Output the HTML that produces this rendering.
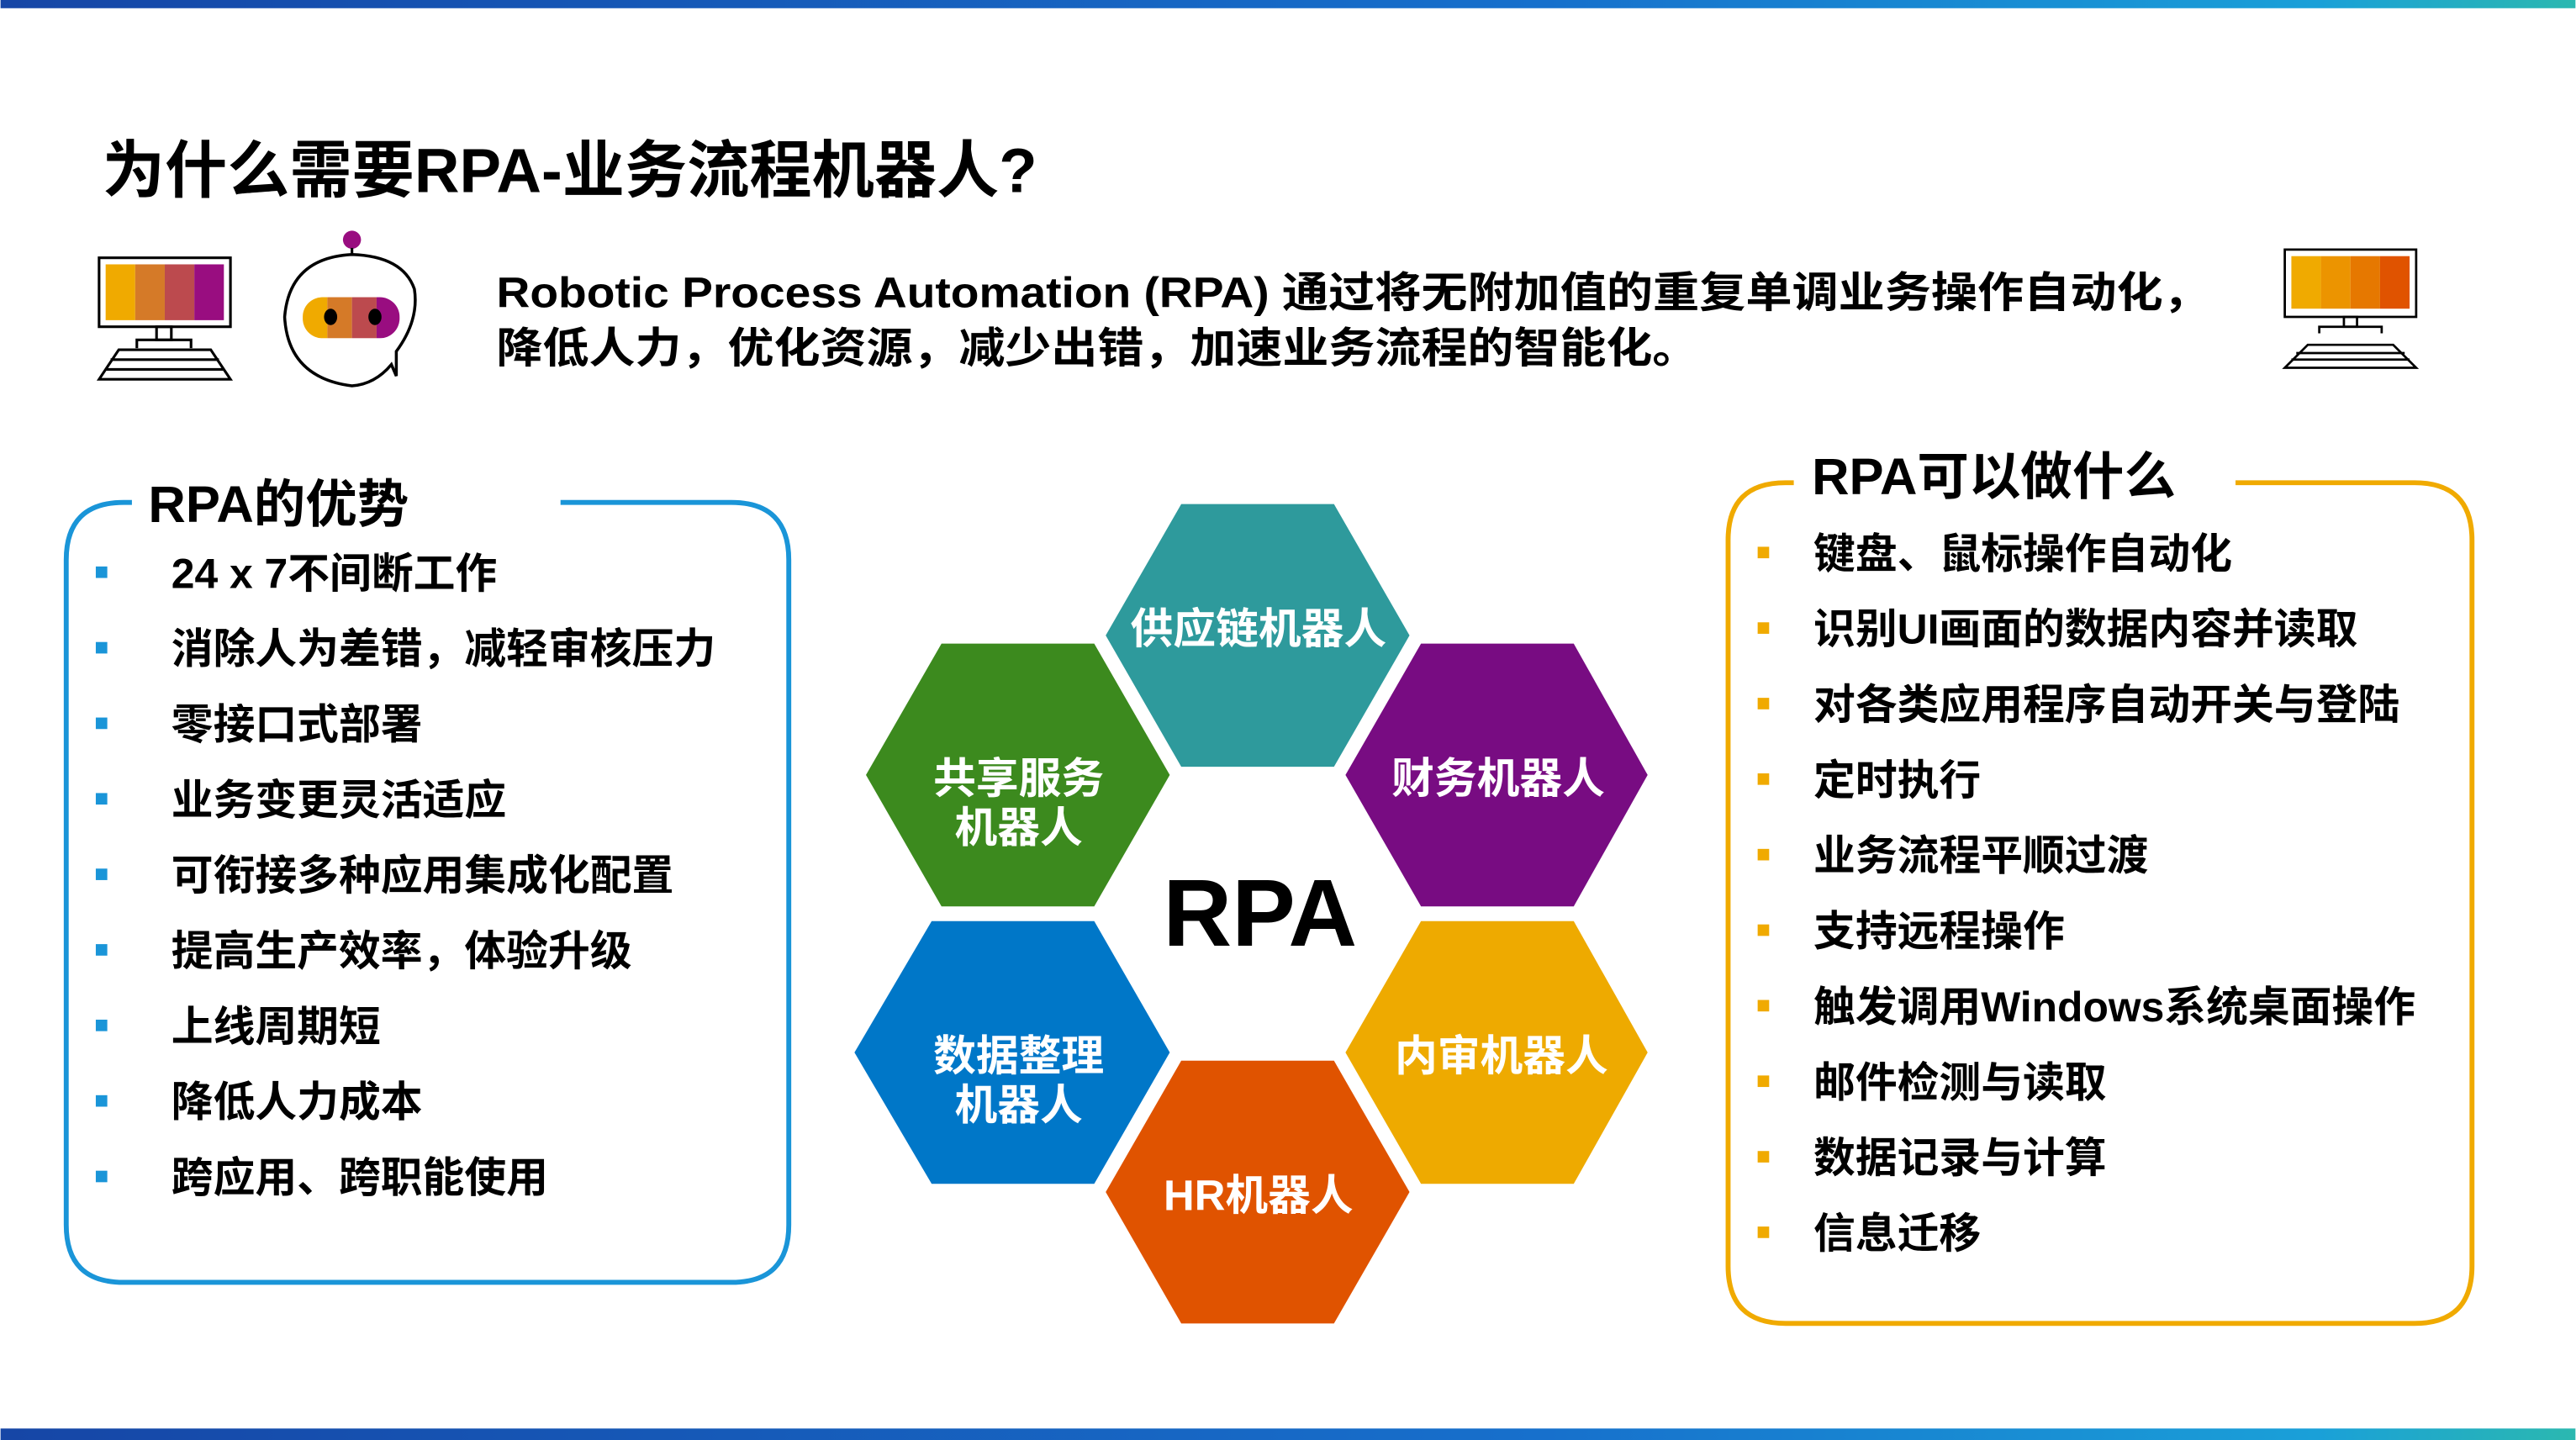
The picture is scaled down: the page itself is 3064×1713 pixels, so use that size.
<!DOCTYPE html>
<html><head><meta charset="utf-8">
<style>
html,body{margin:0;padding:0;background:#fff;}
svg{display:block;}
text{font-family:"Liberation Sans","Noto Sans CJK SC",sans-serif;font-weight:bold;}
</style></head>
<body>
<svg width="3064" height="1713" viewBox="0 0 1568 877" xmlns="http://www.w3.org/2000/svg">
<defs>
<linearGradient id="bar" x1="0" x2="1" y1="0" y2="0">
<stop offset="0" stop-color="#1646a6"/><stop offset="0.6" stop-color="#1770cc"/><stop offset="0.9" stop-color="#1aa0d8"/><stop offset="1" stop-color="#2bb8b0"/>
</linearGradient>
</defs>
<rect x="0" y="0" width="1568" height="5" fill="url(#bar)"/>
<rect x="0" y="870" width="1568" height="7" fill="url(#bar)"/>

<text x="62" y="117" font-size="38" fill="#000">为什么需要RPA-业务流程机器人?</text>

<!-- left monitor -->
<g stroke="#000" stroke-width="1.6" fill="none">
<rect x="60" y="157" width="80" height="42" fill="#fff"/>
<rect x="95" y="199" width="9" height="8"/>
<path d="M83 212 V207 H116 V212"/>
<path d="M60 231 L72 213 H128 L140 231 Z"/>
<line x1="67" y1="219" x2="133" y2="219"/><line x1="64" y1="225" x2="136" y2="225"/>
</g>
<rect x="64" y="161" width="18" height="34" fill="#F0AA00"/>
<rect x="82" y="161" width="18" height="34" fill="#D57A28"/>
<rect x="100" y="161" width="18" height="34" fill="#BC4A4E"/>
<rect x="118" y="161" width="18" height="34" fill="#990D80"/>

<!-- robot -->
<circle cx="214" cy="146" r="5.5" fill="#990D80"/>
<line x1="214" y1="151" x2="214" y2="155" stroke="#000" stroke-width="1.6"/>
<path d="M238 222 L241 229 L241 214 Q255 195 252 176 Q245 156 214 155 Q176 157 173 193 Q175 230 214 235 Q228 234 238 222 Z" fill="#fff" stroke="#000" stroke-width="1.8"/>
<clipPath id="pill"><rect x="184" y="181" width="59" height="25" rx="12"/></clipPath>
<g clip-path="url(#pill)">
<rect x="184" y="181" width="15" height="25" fill="#F0AA00"/>
<rect x="199" y="181" width="15" height="25" fill="#D57A28"/>
<rect x="214" y="181" width="15" height="25" fill="#BC4A4E"/>
<rect x="229" y="181" width="15" height="25" fill="#990D80"/>
</g>
<ellipse cx="201" cy="193" rx="4" ry="5" fill="#000"/>
<ellipse cx="228" cy="193" rx="4" ry="5" fill="#000"/>

<text x="302" y="187" font-size="26" fill="#000" textLength="1043" lengthAdjust="spacingAndGlyphs">Robotic Process Automation (RPA) 通过将无附加值的重复单调业务操作自动化，</text>
<text x="302" y="221" font-size="26" fill="#000" textLength="732" lengthAdjust="spacingAndGlyphs">降低人力，优化资源，减少出错，加速业务流程的智能化。</text>

<!-- right monitor -->
<g stroke="#000" stroke-width="1.4" fill="none">
<rect x="1391" y="152" width="80" height="41" fill="#fff"/>
<rect x="1427" y="193" width="8" height="6"/>
<path d="M1412 203 V199 H1450 V203"/>
<path d="M1391 224 L1405 210 H1457 L1471 224 Z"/>
<line x1="1398" y1="215" x2="1464" y2="215"/><line x1="1395" y1="219" x2="1467" y2="219"/>
</g>
<rect x="1395" y="156" width="18" height="32" fill="#F0AA00"/>
<rect x="1413" y="156" width="18" height="32" fill="#EC9400"/>
<rect x="1431" y="156" width="18" height="32" fill="#E67800"/>
<rect x="1449" y="156" width="18" height="32" fill="#E05300"/>

<!-- left box -->
<path d="M80 306 H75 Q40 306 40 341 V746 Q40 781 75 781 H445 Q480 781 480 746 V341 Q480 306 445 306 H341" fill="none" stroke="#1a95d8" stroke-width="3"/>
<text x="90" y="318" font-size="31.5" fill="#000">RPA的优势</text>
<g fill="#1a95d8">
<rect x="58" y="345" width="7" height="7"/><rect x="58" y="391" width="7" height="7"/><rect x="58" y="437" width="7" height="7"/>
<rect x="58" y="483" width="7" height="7"/><rect x="58" y="529" width="7" height="7"/><rect x="58" y="575" width="7" height="7"/>
<rect x="58" y="621" width="7" height="7"/><rect x="58" y="667" width="7" height="7"/><rect x="58" y="713" width="7" height="7"/>
</g>
<g font-size="25.5" fill="#000">
<text x="104" y="358">24 x 7不间断工作</text>
<text x="104" y="404">消除人为差错，减轻审核压力</text>
<text x="104" y="450">零接口式部署</text>
<text x="104" y="496">业务变更灵活适应</text>
<text x="104" y="542">可衔接多种应用集成化配置</text>
<text x="104" y="588">提高生产效率，体验升级</text>
<text x="104" y="634">上线周期短</text>
<text x="104" y="680">降低人力成本</text>
<text x="104" y="726">跨应用、跨职能使用</text>
</g>

<!-- hexes -->
<g>
<polygon points="673,387 719,307 812,307 858,387 812,467 719,467" fill="#2E9A9C"/>
<polygon points="527,472 573,392 666,392 712,472 666,552 573,552" fill="#3C8A1E"/>
<polygon points="819,472 865,392 958,392 1003,472 958,552 865,552" fill="#780C82"/>
<polygon points="520,641 567,561 666,561 712,641 666,721 567,721" fill="#0077C8"/>
<polygon points="819,641 865,561 958,561 1003,641 958,721 865,721" fill="#EEAA00"/>
<polygon points="673,726 719,646 812,646 858,726 812,806 719,806" fill="#E05300"/>
</g>
<g font-size="26" fill="#fff" text-anchor="middle">
<text x="766" y="392">供应链机器人</text>
<text x="620" y="483">共享服务</text>
<text x="620" y="513">机器人</text>
<text x="912" y="483">财务机器人</text>
<text x="620" y="652">数据整理</text>
<text x="620" y="682">机器人</text>
<text x="914" y="652">内审机器人</text>
<text x="766" y="737">HR机器人</text>
</g>
<text x="767" y="576" font-size="58" fill="#000" text-anchor="middle">RPA</text>

<!-- right box -->
<path d="M1092 294 H1087 Q1052 294 1052 329 V771 Q1052 806 1087 806 H1470 Q1505 806 1505 771 V329 Q1505 294 1470 294 H1361" fill="none" stroke="#F0AA00" stroke-width="3"/>
<text x="1103" y="301" font-size="31.5" fill="#000">RPA可以做什么</text>
<g fill="#F0AA00">
<rect x="1070" y="333" width="7" height="7"/><rect x="1070" y="379" width="7" height="7"/><rect x="1070" y="425" width="7" height="7"/>
<rect x="1070" y="471" width="7" height="7"/><rect x="1070" y="517" width="7" height="7"/><rect x="1070" y="563" width="7" height="7"/>
<rect x="1070" y="609" width="7" height="7"/><rect x="1070" y="655" width="7" height="7"/><rect x="1070" y="701" width="7" height="7"/>
<rect x="1070" y="747" width="7" height="7"/>
</g>
<g font-size="25.5" fill="#000">
<text x="1104" y="346">键盘、鼠标操作自动化</text>
<text x="1104" y="392">识别UI画面的数据内容并读取</text>
<text x="1104" y="438">对各类应用程序自动开关与登陆</text>
<text x="1104" y="484">定时执行</text>
<text x="1104" y="530">业务流程平顺过渡</text>
<text x="1104" y="576">支持远程操作</text>
<text x="1104" y="622">触发调用Windows系统桌面操作</text>
<text x="1104" y="668">邮件检测与读取</text>
<text x="1104" y="714">数据记录与计算</text>
<text x="1104" y="760">信息迁移</text>
</g>
</svg>
</body></html>
